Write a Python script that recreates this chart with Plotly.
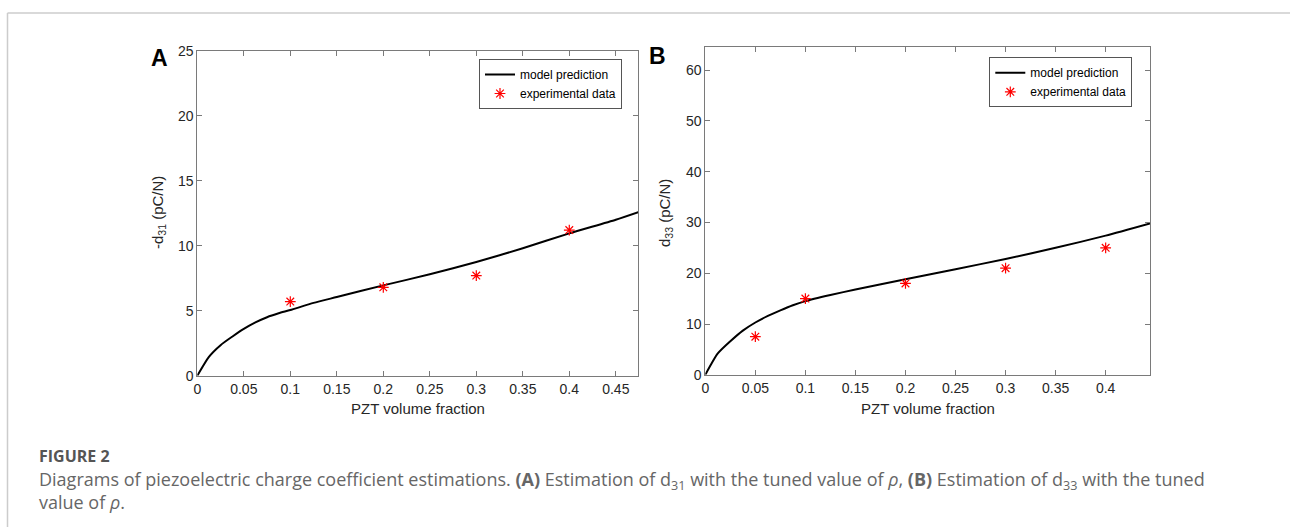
import plotly.graph_objects as go

# ---- data ----
xA_model = [0, 0.0125, 0.025, 0.0375, 0.05, 0.0625, 0.075, 0.0875, 0.1, 0.125, 0.15, 0.2, 0.25, 0.3, 0.35, 0.4, 0.45, 0.475]
yA_model = [0, 1.45, 2.35, 3.0, 3.6, 4.1, 4.5, 4.8, 5.05, 5.6, 6.05, 6.95, 7.8, 8.75, 9.8, 10.95, 12.0, 12.6]
xA_exp = [0.1, 0.2, 0.3, 0.4]
yA_exp = [5.7, 6.8, 7.7, 11.2]

xB_model = [0, 0.0125, 0.025, 0.0375, 0.05, 0.0625, 0.075, 0.0875, 0.1, 0.125, 0.15, 0.2, 0.25, 0.3, 0.35, 0.4, 0.4443]
yB_model = [0, 4.2, 6.6, 8.7, 10.3, 11.6, 12.7, 13.7, 14.5, 15.7, 16.8, 18.8, 20.8, 22.8, 25.0, 27.4, 29.8]
xB_exp = [0.05, 0.1, 0.2, 0.3, 0.4]
yB_exp = [7.5, 15, 18, 21, 25]

xA_ticks = [0, 0.05, 0.1, 0.15, 0.2, 0.25, 0.3, 0.35, 0.4, 0.45]
xA_labels = ["0", "0.05", "0.1", "0.15", "0.2", "0.25", "0.3", "0.35", "0.4", "0.45"]
yA_ticks = [0, 5, 10, 15, 20, 25]
xB_ticks = [0, 0.05, 0.1, 0.15, 0.2, 0.25, 0.3, 0.35, 0.4]
xB_labels = ["0", "0.05", "0.1", "0.15", "0.2", "0.25", "0.3", "0.35", "0.4"]
yB_ticks = [0, 10, 20, 30, 40, 50, 60]

W, H = 1290, 527
def px(x): return x / W
def py(y): return 1 - y / H

FONT = "Liberation Sans, Arial, sans-serif"
AX = "#7a7a7a"
TXT = "#262626"

fig = go.Figure()

star = dict(symbol="asterisk-open", size=9, color="red", line=dict(color="red", width=1.2))
fig.add_trace(go.Scatter(x=xA_model, y=yA_model, mode="lines", name="model prediction",
                         line=dict(color="black", width=2, shape="spline", smoothing=0.6),
                         xaxis="x", yaxis="y", legend="legend"))
fig.add_trace(go.Scatter(x=xA_exp, y=yA_exp, mode="markers", name="experimental data",
                         marker=star, xaxis="x", yaxis="y", legend="legend"))
fig.add_trace(go.Scatter(x=xB_model, y=yB_model, mode="lines", name="model prediction",
                         line=dict(color="black", width=2, shape="spline", smoothing=0.6),
                         xaxis="x2", yaxis="y2", legend="legend2"))
fig.add_trace(go.Scatter(x=xB_exp, y=yB_exp, mode="markers", name="experimental data",
                         marker=star, xaxis="x2", yaxis="y2", legend="legend2"))

axis_common = dict(showline=True, linecolor=AX, linewidth=1, mirror="ticks", ticks="inside",
                   ticklen=5, tickcolor=AX, showgrid=False, zeroline=False, automargin=False,
                   tickfont=dict(family=FONT, size=14, color=TXT))

legend_common = dict(bgcolor="white", bordercolor="#555", borderwidth=1,
                     font=dict(family=FONT, size=12, color="black"),
                     xanchor="left", yanchor="top", tracegroupgap=0,
                     itemwidth=30, itemclick=False)

fig.update_layout(
    template="none",
    width=W, height=H,
    autosize=False,
    margin=dict(l=0, r=0, t=0, b=0, pad=0, autoexpand=False),
    paper_bgcolor="white", plot_bgcolor="white",
    xaxis=dict(domain=[px(197.3), px(638.3)], range=[0, 0.4742], tickvals=xA_ticks, ticktext=xA_labels,
               anchor="y", **axis_common),
    yaxis=dict(domain=[py(375.7), py(50.7)], range=[0, 25], tickvals=yA_ticks, anchor="x", **axis_common),
    xaxis2=dict(domain=[px(705.3), px(1150)], range=[0, 0.4443], tickvals=xB_ticks, ticktext=xB_labels,
                anchor="y2", **axis_common),
    yaxis2=dict(domain=[py(374.8), py(46.7)], range=[0, 64.6], tickvals=yB_ticks, anchor="x2", **axis_common),
    legend=dict(x=px(479), y=py(59), **legend_common),
    legend2=dict(x=px(989.3), y=py(57.3), **legend_common),
    showlegend=True,
)

ann = []
# panel letters
ann.append(dict(text="<b>A</b>", x=px(159), y=py(58), xref="paper", yref="paper", showarrow=False,
                font=dict(family=FONT, size=23, color="black"), xanchor="center", yanchor="middle"))
ann.append(dict(text="<b>B</b>", x=px(657), y=py(56), xref="paper", yref="paper", showarrow=False,
                font=dict(family=FONT, size=23, color="black"), xanchor="center", yanchor="middle"))
# axis titles
for cx in [(197.3 + 638.3) / 2, (705.3 + 1150) / 2]:
    ann.append(dict(text="PZT volume fraction", x=px(cx), y=py(408), xref="paper", yref="paper",
                    showarrow=False, font=dict(family=FONT, size=15, color=TXT),
                    xanchor="center", yanchor="middle"))
ann.append(dict(text="-d<sub>31</sub> (pC/N)", x=px(158), y=py(213), xref="paper", yref="paper",
                showarrow=False, textangle=-90, font=dict(family=FONT, size=15, color=TXT),
                xanchor="center", yanchor="middle"))
ann.append(dict(text="d<sub>33</sub> (pC/N)", x=px(665), y=py(213), xref="paper", yref="paper",
                showarrow=False, textangle=-90, font=dict(family=FONT, size=15, color=TXT),
                xanchor="center", yanchor="middle"))
# caption
CAP = "Open Sans, Noto Sans, sans-serif"
ann.append(dict(text="<b>FIGURE 2</b>", x=px(38), y=py(456), xref="paper", yref="paper", showarrow=False,
                borderpad=0, font=dict(family=CAP, size=16, color="#555555"), xanchor="left", yanchor="middle"))
ann.append(dict(text="Diagrams of piezoelectric charge coefficient estimations. <b>(A)</b> Estimation of d<sub>31</sub> "
                     "with the tuned value of <i>ρ</i>, <b>(B)</b> Estimation of d<sub>33</sub> with the tuned",
                x=px(38), y=py(480), xref="paper", yref="paper", showarrow=False, borderpad=0,
                font=dict(family=CAP, size=18, color="#666666"), xanchor="left", yanchor="middle"))
ann.append(dict(text="value of <i>ρ</i>.", x=px(38), y=py(502), xref="paper", yref="paper", showarrow=False,
                borderpad=0, font=dict(family=CAP, size=18, color="#666666"), xanchor="left", yanchor="middle"))
fig.update_layout(annotations=ann)

# page frame lines
fig.add_shape(type="line", xref="paper", yref="paper", x0=px(7.5), x1=1, y0=py(13), y1=py(13),
              line=dict(color="#cccccc", width=1.5))
fig.add_shape(type="line", xref="paper", yref="paper", x0=px(7.5), x1=px(7.5), y0=py(13), y1=0,
              line=dict(color="#cccccc", width=1.5))

fig.write_html("out.html", config={"displayModeBar": False},
               post_script="document.body.style.margin='0';document.body.style.overflow='hidden';")
